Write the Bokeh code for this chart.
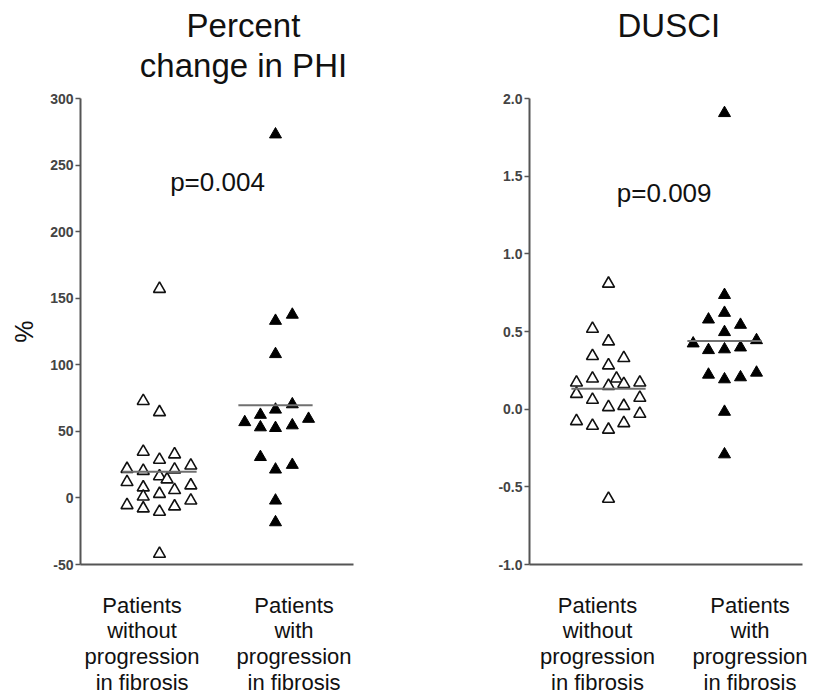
import numpy as np
from bokeh.plotting import figure
from bokeh.models import Range1d, FixedTicker, PrintfTickFormatter, Label, LinearAxis
from bokeh.layouts import row
from bokeh.embed import file_html
from bokeh.resources import INLINE

FONT = "Liberation Sans"

# ---------------- data ----------------
group_pos = [1, 2]
category_labels = ["Patients\nwithout\nprogression\nin fibrosis",
                   "Patients\nwith\nprogression\nin fibrosis"]

# Panel 1: percent change in PHI (%)
phi_title = "Percent\nchange in PHI"
phi_p = "p=0.004"
phi_ticks = [-50, 0, 50, 100, 150, 200, 250, 300]
phi_without = [157, 72.8, 64.4, 34.7, 28.7, 32.7, 24.3, 21.8, 20.3, 21.3, 16.3, 13.9,
               11.9, 7.9, 9.4, 5.9, 1.0, 3.0, -5.4, -2.0, -7.9, -10.4, -6.4, -42]
phi_without_dx = [0, -0.14, 0, -0.14, 0, 0.13, 0.27, -0.28, -0.14, 0.13, 0, 0.065,
                  -0.28, -0.14, 0.27, 0.13, -0.14, 0, -0.28, 0.27, -0.14, 0, 0.13, 0]
phi_with = [273, 133, 137.6, 108, 70.3, 66.3, 62.4, 56.9, 53, 52.5, 54.5, 59.4,
            30.7, 21.3, 24.8, -2.0, -18.3]
phi_with_dx = [0, 0, 0.145, 0, 0.145, 0, -0.13, -0.265, -0.13, 0, 0.145, 0.285,
               -0.13, 0, 0.145, 0, 0]

# Panel 2: DUSCI
dusci_title = "DUSCI"
dusci_p = "p=0.009"
dusci_ticks = [-1.0, -0.5, 0.0, 0.5, 1.0, 1.5, 2.0]
dusci_without = [0.808, 0.517, 0.436, 0.342, 0.329, 0.282, 0.171, 0.197, 0.197, 0.150,
                 0.162, 0.171, 0.098, 0.060, 0.073, 0.013, 0.021, -0.030, -0.077,
                 -0.107, -0.132, -0.090, -0.577]
dusci_without_dx = [0, -0.138, 0, -0.138, 0.132, 0, -0.276, -0.138, 0.069, 0, 0.132,
                    0.27, -0.276, -0.138, 0.27, 0, 0.132, 0.27, -0.276, -0.138, 0,
                    0.132, 0]
dusci_with = [1.906, 0.735, 0.620, 0.577, 0.543, 0.496, 0.423, 0.380, 0.385, 0.397,
              0.444, 0.222, 0.192, 0.205, 0.235, -0.017, -0.291]
dusci_with_dx = [0, 0, 0, -0.138, 0.138, 0, -0.27, -0.138, 0, 0.138, 0.276, -0.138,
                 0, 0.138, 0.276, 0, 0]


def make_panel(width, height, border_left, border_top, border_bottom, frame_w,
               y_range, ticks, fmt, without, without_dx, with_, with_dx,
               title, title_x, title_standoff, p_text, p_x, p_y,
               cat_x, ylabel=None):
    x_start = 1 - 79 / 116
    x_end = x_start + frame_w / 116

    p = figure(width=width, height=height, output_backend="svg", toolbar_location=None,
               x_range=Range1d(x_start, x_end), y_range=Range1d(*y_range),
               min_border_left=border_left, min_border_top=border_top,
               min_border_bottom=border_bottom,
               min_border_right=width - border_left - frame_w)
    p.outline_line_color = None
    p.grid.visible = False
    p.title.visible = False

    # y axis
    yax = p.left[0]
    yax.ticker = FixedTicker(ticks=ticks)
    yax.formatter = PrintfTickFormatter(format=fmt)
    yax.axis_line_color = "#555555"
    yax.axis_line_width = 2
    yax.major_tick_line_color = "#555555"
    yax.major_tick_line_width = 1.5
    yax.major_tick_out = 5
    yax.major_tick_in = 0
    yax.minor_tick_line_color = None
    yax.major_label_text_font = FONT
    yax.major_label_text_font_size = "14px"
    yax.major_label_text_font_style = "bold"
    yax.major_label_text_color = "#444444"
    yax.major_label_standoff = 2
    if ylabel:
        yax.axis_label = ylabel
        yax.axis_label_text_font = FONT
        yax.axis_label_text_font_size = "25px"
        yax.axis_label_text_font_style = "normal"
        yax.axis_label_text_color = "#111111"
        yax.axis_label_standoff = 9

    # bottom x axis: line plus multi-line category labels
    xax = p.below[0]
    xax.ticker = FixedTicker(ticks=cat_x)
    xax.major_label_overrides = {cx: lab for cx, lab in zip(cat_x, category_labels)}
    xax.axis_line_color = "#555555"
    xax.axis_line_width = 2
    xax.major_tick_line_color = None
    xax.major_tick_out = 0
    xax.major_tick_in = 0
    xax.minor_tick_line_color = None
    xax.major_label_text_font = FONT
    xax.major_label_text_font_size = "22px"
    xax.major_label_text_color = "#111111"
    xax.major_label_text_line_height = 1.03
    xax.major_label_standoff = 28

    # title drawn as a centred multi-line label on an invisible axis above the frame
    top = LinearAxis(ticker=FixedTicker(ticks=[title_x]),
                     major_label_overrides={title_x: title})
    top.axis_line_color = None
    top.major_tick_line_color = None
    top.minor_tick_line_color = None
    top.major_tick_out = 0
    top.major_tick_in = 0
    top.major_label_text_font = FONT
    top.major_label_text_font_size = "33px"
    top.major_label_text_color = "#111111"
    top.major_label_text_line_height = 1.07
    top.major_label_standoff = title_standoff
    p.add_layout(top, "above")

    # points
    xw = [group_pos[0] + d for d in without_dx]
    xh = [group_pos[1] + d for d in with_dx]
    p.scatter(xw, without, marker="triangle", size=12, fill_color="white",
              line_color="#111111", line_width=1.6)
    p.scatter(xh, with_, marker="triangle", size=12, fill_color="black",
              line_color="black", line_width=1)

    # mean lines
    means = [float(np.mean(without)), float(np.mean(with_))]
    half = 0.32
    p.segment(x0=[g - half for g in group_pos], x1=[g + half for g in group_pos],
              y0=means, y1=means, line_color="#707070", line_width=2)

    # p value
    p.add_layout(Label(x=p_x, y=p_y, text=p_text, text_font=FONT,
                       text_font_size="26px", text_color="#111111",
                       text_align="center", text_baseline="alphabetic"))
    return p


p1 = make_panel(width=440, height=697, border_left=80, border_top=96, border_bottom=131,
                frame_w=273, y_range=(-50, 300), ticks=phi_ticks, fmt="%d",
                without=phi_without, without_dx=phi_without_dx,
                with_=phi_with, with_dx=phi_with_dx,
                title=phi_title, title_x=1.724, title_standoff=15,
                p_text=phi_p, p_x=1.5, p_y=237.5,
                cat_x=[0.85, 2.16], ylabel="%")

p2 = make_panel(width=384, height=697, border_left=89, border_top=98, border_bottom=131,
                frame_w=273, y_range=(-1.0, 2.0), ticks=dusci_ticks, fmt="%.1f",
                without=dusci_without, without_dx=dusci_without_dx,
                with_=dusci_with, with_dx=dusci_with_dx,
                title=dusci_title, title_x=1.52, title_standoff=55,
                p_text=dusci_p, p_x=1.48, p_y=1.393,
                cat_x=[0.905, 2.22])

layout = row(p1, p2)
open("out.html", "w").write(file_html(layout, INLINE))
